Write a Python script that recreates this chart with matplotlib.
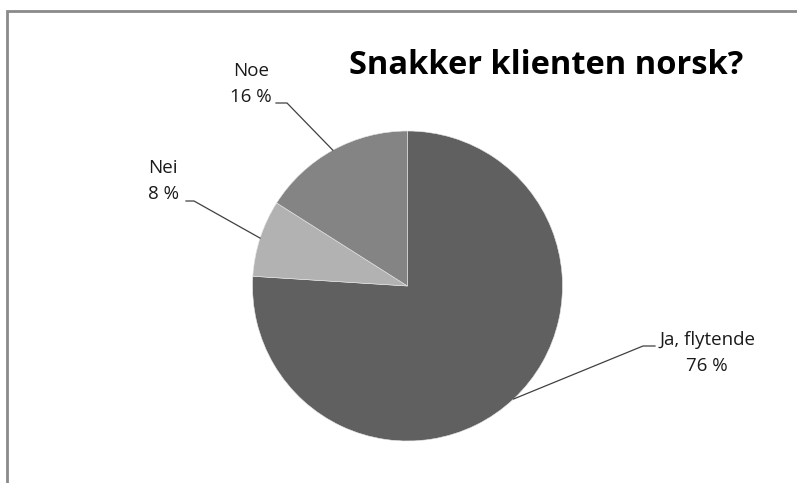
import numpy as np
import matplotlib
matplotlib.use("Agg")
import matplotlib.pyplot as plt
from matplotlib.patches import Rectangle

categories = ["Ja, flytende", "Nei", "Noe"]
values = [76, 8, 16]
colors = ["#606060", "#b2b2b2", "#848484"]
title = "Snakker klienten norsk?"

W, H = 797, 483
fig = plt.figure(figsize=(W / 100, H / 100), dpi=100)
fig.patch.set_facecolor("white")

# chart frame
fig.patches.append(Rectangle((7 / W, -0.1), 1.2, (H - 11) / H + 0.1, transform=fig.transFigure,
                             fill=False, edgecolor="#8a8a8a", linewidth=2))

cx, cy, r = 407.5, 286, 155
ax = fig.add_axes([(cx - r) / W, (H - cy - r) / H, 2 * r / W, 2 * r / H])
wedges, _ = ax.pie(values, colors=colors, startangle=90, counterclock=False, radius=1,
                   wedgeprops=dict(edgecolor="#e8e8e8", linewidth=0.4))
ax.set_xlim(-1, 1)
ax.set_ylim(-1, 1)
ax.set_aspect("auto")
ax.axis("off")

def px(x, y):
    return ((x - cx) / r, (cy - y) / r)

font = "Open Sans"
layout = {
    "Noe": dict(text=(251, 84), ha="center", elbow=(287, 103), end=(276, 103)),
    "Nei": dict(text=(163, 181), ha="center", elbow=(194, 201), end=(186, 201)),
    "Ja, flytende": dict(text=(707, 353), ha="center", elbow=(643, 346), end=(655, 346)),
}

for w, cat, v in zip(wedges, categories, values):
    mid = np.deg2rad((w.theta1 + w.theta2) / 2)
    p0 = (np.cos(mid), np.sin(mid))
    L = layout[cat]
    e = px(*L["elbow"])
    t = px(*L["end"])
    ax.plot([p0[0], e[0], t[0]], [p0[1], e[1], t[1]], color="#404040", lw=0.9,
            clip_on=False, solid_joinstyle="miter")
    tx, ty = px(*L["text"])
    ax.text(tx, ty, f"{cat}\n{v} %", ha=L["ha"], va="center", fontsize=13.5,
            family=font, color="#1a1a1a", linespacing=1.55, clip_on=False)

fig.text(546 / W, 1 - 66 / H, title, ha="center", va="center", fontsize=23.5,
         fontweight="bold", family=font, color="black")

fig.savefig("out.png", dpi=100)
